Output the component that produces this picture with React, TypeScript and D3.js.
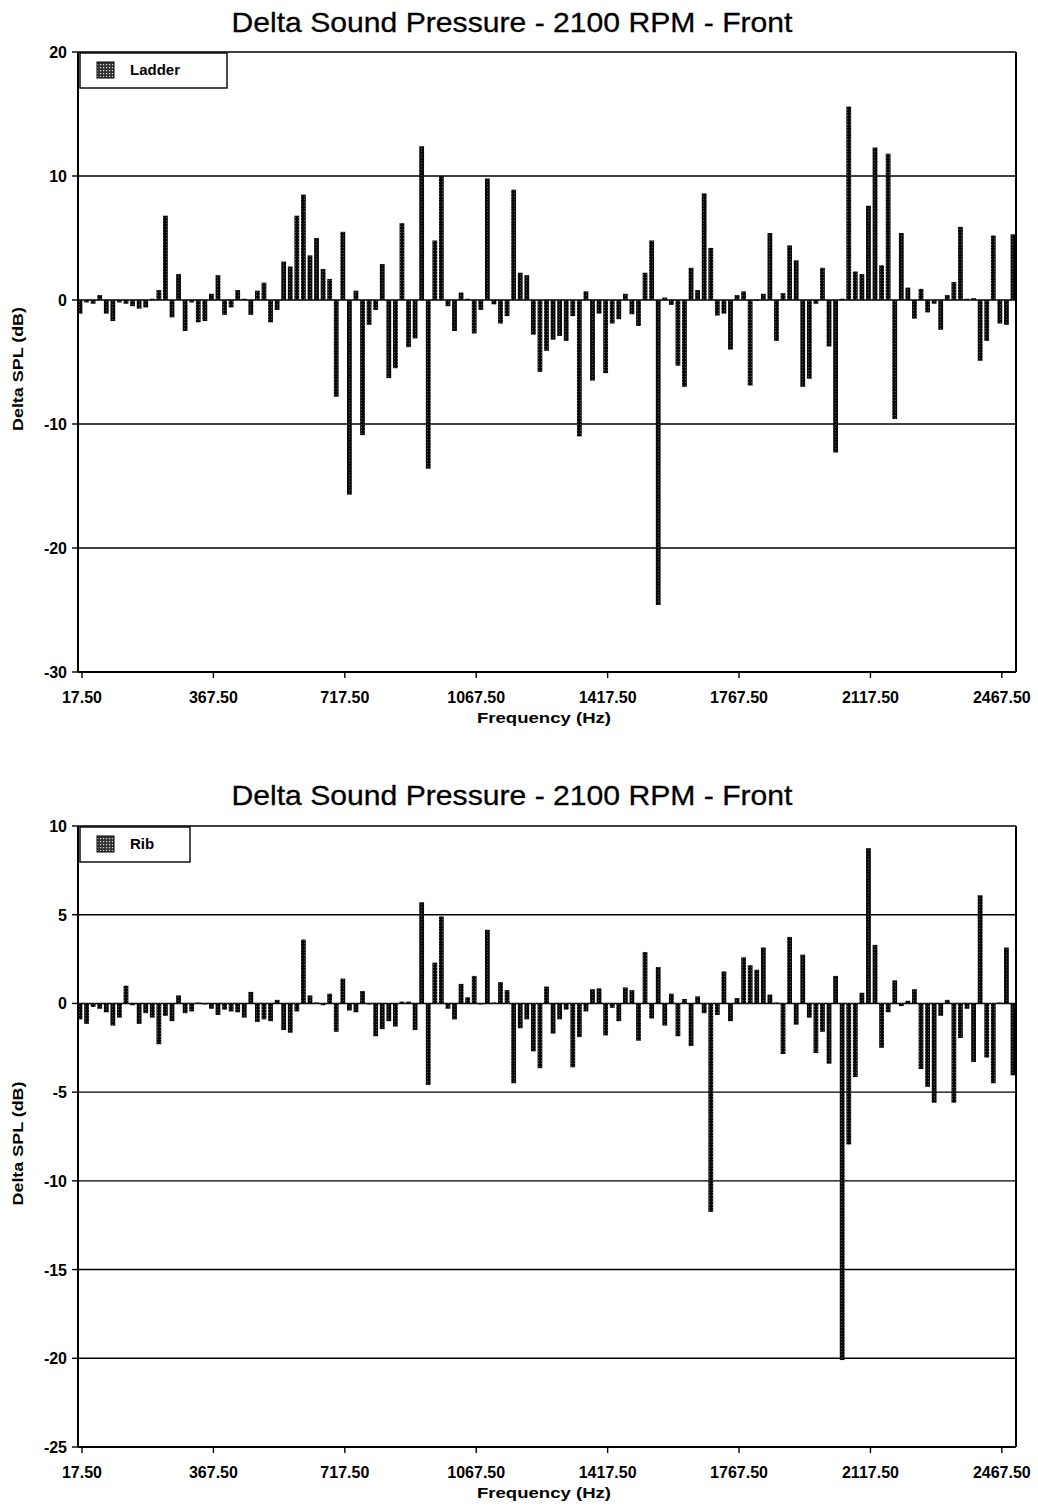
import React from "react";
import * as d3 from "d3";

const FREQ_STEP = 17.5;
const CHART_TITLE = "Delta Sound Pressure - 2100 RPM - Front";
const X_LABEL = "Frequency (Hz)";
const Y_LABEL = "Delta SPL (dB)";

const ladderValues = [
  -1.1, -0.2, -0.3, 0.4, -1.1, -1.7, -0.2, -0.3, -0.5, -0.7,
  -0.6, 0.1, 0.8, 6.8, -1.4, 2.1, -2.5, -0.2, -1.8, -1.7,
  0.5, 2.0, -1.2, -0.6, 0.8, 0.1, -1.2, 0.75, 1.4, -1.8,
  -0.8, 3.1, 2.7, 6.8, 8.5, 3.6, 5.0, 2.5, 1.7, -7.8,
  5.5, -15.7, 0.75, -10.9, -2.0, -0.8, 2.9, -6.3, -5.5, 6.2,
  -3.8, -3.1, 12.4, -13.6, 4.8, 10.0, -0.5, -2.5, 0.6, 0.1,
  -2.7, -0.8, 9.8, -0.35, -1.9, -1.3, 8.9, 2.2, 2.0, -2.8,
  -5.8, -4.1, -3.2, -2.9, -3.3, -1.3, -11.0, 0.7, -6.5, -1.1,
  -5.9, -1.9, -1.55, 0.5, -1.15, -2.1, 2.2, 4.8, -24.6, 0.2,
  -0.4, -5.3, -7.0, 2.6, 0.8, 8.6, 4.2, -1.25, -1.1, -4.0,
  0.4, 0.7, -6.9, 0.0, 0.5, 5.4, -3.3, 0.55, 4.4, 3.2,
  -7.0, -6.35, -0.3, 2.6, -3.75, -12.3, 0.1, 15.6, 2.3, 2.1,
  7.6, 12.3, 2.8, 11.8, -9.6, 5.4, 1.0, -1.5, 0.9, -1.0,
  -0.3, -2.4, 0.4, 1.45, 5.9, 0.1, 0.15, -4.9, -3.3, 5.2,
  -1.9, -2.0, 5.3,
];

const ribValues = [
  -0.9, -1.15, -0.2, -0.3, -0.5, -1.25, -0.8, 1.0, -0.1, -1.15,
  -0.55, -0.8, -2.3, -0.7, -1.0, 0.45, -0.55, -0.45, 0.05, 0.0,
  -0.3, -0.65, -0.35, -0.45, -0.5, -0.8, 0.65, -1.05, -0.9, -1.0,
  0.2, -1.5, -1.65, -0.45, 3.6, 0.45, 0.05, -0.1, 0.55, -1.6,
  1.4, -0.4, -0.5, 0.7, -0.05, -1.85, -1.45, -1.0, -1.3, 0.1,
  0.1, -1.5, 5.7, -4.6, 2.3, 4.9, -0.3, -0.9, 1.1, 0.35,
  1.55, 0.0, 4.15, 0.05, 1.2, 0.75, -4.5, -1.4, -0.9, -2.7,
  -3.65, 0.95, -1.7, -0.9, -0.35, -3.6, -1.9, -0.45, 0.8, 0.85,
  -1.8, -0.25, -1.0, 0.9, 0.75, -2.1, 2.9, -0.85, 2.05, -1.25,
  0.55, -1.85, 0.25, -2.4, 0.4, -0.55, -11.75, -0.65, 1.8, -1.0,
  0.3, 2.6, 2.15, 1.9, 3.15, 0.5, 0.05, -2.85, 3.75, -1.2,
  2.75, -0.8, -2.8, -1.6, -3.4, 1.55, -20.1, -7.95, -4.15, 0.6,
  8.75, 3.3, -2.5, -0.5, 1.3, -0.15, 0.15, 0.8, -3.7, -4.7,
  -5.6, -0.7, 0.2, -5.6, -1.95, -0.3, -3.3, 6.1, -3.05, -4.5,
  0.05, 3.15, -4.05,
];

const xTickValues = [17.5, 367.5, 717.5, 1067.5, 1417.5, 1767.5, 2117.5, 2467.5];
const xTickLabels = ["17.50", "367.50", "717.50", "1067.50", "1417.50", "1767.50", "2117.50", "2467.50"];
const ladderYTicks = [20, 10, 0, -10, -20, -30];
const ribYTicks = [10, 5, 0, -5, -10, -15, -20, -25];

const FONT = "'Liberation Sans', Arial, Helvetica, sans-serif";

type ChartProps = {
  values: number[];
  yTicks: number[];
  legend: string;
  plotTop: number;
  plotBottom: number;
  titleY: number;
  legendW: number;
  tickOffset: number;
  xLabelOffset: number;
  id: string;
};

function BarChart({
  values,
  yTicks,
  legend,
  plotTop,
  plotBottom,
  titleY,
  legendW,
  tickOffset,
  xLabelOffset,
  id,
}: ChartProps) {
  const left = 78;
  const right = 1016;
  const freqs = values.map((_, i) => FREQ_STEP * (i + 1));
  const x = d3.scaleLinear().domain([17.5, 2502.5]).range([80, 1013]);
  const y = d3
    .scaleLinear()
    .domain([d3.min(yTicks) as number, d3.max(yTicks) as number])
    .range([plotBottom, plotTop]);
  const bw = 4.8;
  const y0 = y(0);
  return (
    <g>
      <text
        x={512}
        y={titleY}
        textAnchor="middle"
        fontFamily={FONT}
        fontSize={28}
        textLength={561}
        lengthAdjust="spacingAndGlyphs"
        fill="#000"
        stroke="#000"
        strokeWidth={0.3}
      >
        {CHART_TITLE}
      </text>
      {yTicks.map((t) => (
        <g key={t}>
          <line x1={left} x2={right} y1={y(t)} y2={y(t)} stroke="#000" strokeWidth={1.4} />
          <line x1={left - 6} x2={left} y1={y(t)} y2={y(t)} stroke="#000" strokeWidth={1.4} />
          <text
            x={left - 11}
            y={y(t) + 6}
            textAnchor="end"
            fontFamily={FONT}
            fontWeight="bold"
            fontSize={16}
            fill="#000"
          >
            {t}
          </text>
        </g>
      ))}
      {values.map((v, i) => {
        const yy = y(v);
        return (
          <rect
            key={i}
            x={x(freqs[i]) - bw / 2}
            y={Math.min(yy, y0)}
            width={bw}
            height={Math.max(Math.abs(yy - y0), 1)}
            fill={`url(#pat-${id})`}
          />
        );
      })}
      <line x1={left} x2={left} y1={plotTop} y2={plotBottom} stroke="#000" strokeWidth={2} />
      <line x1={right} x2={right} y1={plotTop} y2={plotBottom} stroke="#000" strokeWidth={2} />
      <line x1={left} x2={right} y1={plotBottom} y2={plotBottom} stroke="#000" strokeWidth={2} />
      {xTickValues.map((t, i) => (
        <g key={t}>
          <line x1={x(t) + 2} x2={x(t) + 2} y1={plotBottom} y2={plotBottom + 6} stroke="#000" strokeWidth={1.4} />
          <text
            x={x(t) + 2}
            y={plotBottom + tickOffset}
            textAnchor="middle"
            fontFamily={FONT}
            fontWeight="bold"
            fontSize={16}
            fill="#000"
          >
            {xTickLabels[i]}
          </text>
        </g>
      ))}
      <text
        x={544}
        y={plotBottom + xLabelOffset}
        textAnchor="middle"
        fontFamily={FONT}
        fontWeight="bold"
        fontSize={15}
        textLength={134}
        lengthAdjust="spacingAndGlyphs"
        fill="#000"
      >
        {X_LABEL}
      </text>
      <text
        transform={`translate(23,${(plotTop + plotBottom) / 2 + 7}) rotate(-90)`}
        textAnchor="middle"
        fontFamily={FONT}
        fontWeight="bold"
        fontSize={15}
        textLength={124}
        lengthAdjust="spacingAndGlyphs"
        fill="#000"
      >
        {Y_LABEL}
      </text>
      <rect x={80} y={plotTop + 1} width={legendW} height={35} fill="#fff" stroke="#000" strokeWidth={1.4} />
      <rect x={97} y={plotTop + 10} width={17} height={16} fill={`url(#legpat)`} stroke="#000" strokeWidth={1} />
      <text x={130} y={plotTop + 23} fontFamily={FONT} fontWeight="bold" fontSize={15} fill="#000">
        {legend}
      </text>
    </g>
  );
}

export default function App() {
  return (
    <svg
      width={1038}
      height={1506}
      viewBox="0 0 1038 1506"
      style={{ position: "absolute", left: 0, top: 0, background: "#fff" }}
    >
      <defs>
        <pattern id="pat-top" width={3} height={3} patternUnits="userSpaceOnUse">
          <rect width={3} height={3} fill="#0a0a0a" />
          <rect x={1} y={1} width={1} height={1} fill="#555" />
        </pattern>
        <pattern id="pat-bot" width={3} height={3} patternUnits="userSpaceOnUse">
          <rect width={3} height={3} fill="#0a0a0a" />
          <rect x={1} y={1} width={1} height={1} fill="#555" />
        </pattern>
        <pattern id="legpat" width={3} height={3} patternUnits="userSpaceOnUse">
          <rect width={3} height={3} fill="#333" />
          <rect x={1} y={1} width={1.2} height={1.2} fill="#ddd" />
        </pattern>
      </defs>
      <rect width={1038} height={1506} fill="#fff" />
      <BarChart
        id="top"
        values={ladderValues}
        yTicks={ladderYTicks}
        legend="Ladder"
        plotTop={52}
        plotBottom={672}
        titleY={32}
        legendW={147}
        tickOffset={31}
        xLabelOffset={51}
      />
      <BarChart
        id="bot"
        values={ribValues}
        yTicks={ribYTicks}
        legend="Rib"
        plotTop={826}
        plotBottom={1447}
        titleY={805}
        legendW={110}
        tickOffset={31}
        xLabelOffset={51}
      />
    </svg>
  );
}
